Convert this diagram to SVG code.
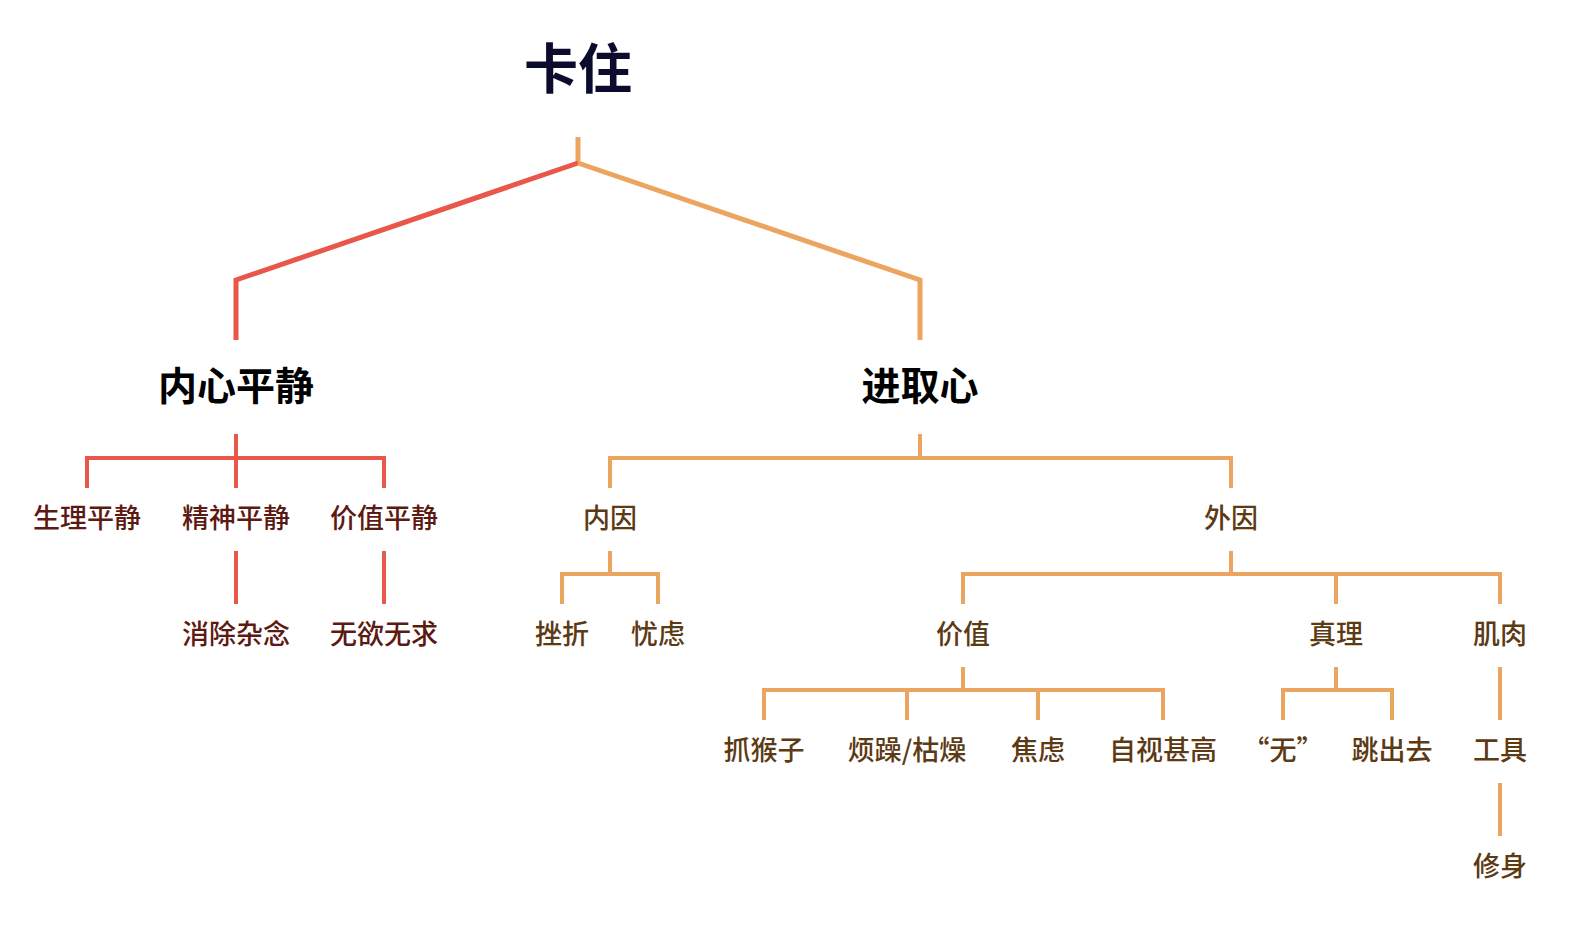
<svg xmlns="http://www.w3.org/2000/svg" width="1594" height="936" viewBox="0 0 1594 936">
<style>
text{font-family:"Noto Sans CJK SC","Noto Sans",sans-serif;text-anchor:middle}
.title{font-size:54px;font-weight:700;fill:#0b0b2e}
.h1{font-size:39px;font-weight:700;fill:#000}
.r{font-size:27px;font-weight:500;fill:#5c1a12}
.o{font-size:27px;font-weight:500;fill:#5c3a14}
.lr{fill:none;stroke:#e8574a;stroke-width:4}
.lo{fill:none;stroke:#eba560;stroke-width:4}
.big{stroke-width:5}
</style>
<rect width="1594" height="936" fill="#fff"/>
<g id="connectors">
<path class="lo big" d="M578 137V163"/>
<path class="lr big" d="M578 163L236 280V340"/>
<path class="lo big" d="M578 163L920 280V340"/>
<path class="lr" d="M236 434V458M87 488V458H384V488M236 458V488"/>
<path class="lr" d="M236 551V604M384 551V604"/>
<path class="lo" d="M920 434V458M610 488V458H1231V488"/>
<path class="lo" d="M610 551V574M562 604V574H658V604"/>
<path class="lo" d="M1231 551V574M963 604V574H1500V604M1336 574V604"/>
<path class="lo" d="M963 667V690M764 720V690H1163V720M907 690V720M1038 690V720"/>
<path class="lo" d="M1336 667V690M1283 720V690H1392V720"/>
<path class="lo" d="M1500 667V720M1500 783V836"/>
</g>
<g id="n-root"><text class="title" x="578" y="89">卡住</text></g>
<g id="n-inner"><text class="h1" x="236" y="400">内心平静</text></g>
<g id="n-drive"><text class="h1" x="920" y="400">进取心</text></g>
<g id="n-phys"><text class="r" x="87" y="528">生理平静</text></g>
<g id="n-mind"><text class="r" x="236" y="528">精神平静</text></g>
<g id="n-value-calm"><text class="r" x="384" y="528">价值平静</text></g>
<g id="n-clear"><text class="r" x="236" y="644">消除杂念</text></g>
<g id="n-nodesire"><text class="r" x="384" y="644">无欲无求</text></g>
<g id="n-internal"><text class="o" x="610" y="528">内因</text></g>
<g id="n-external"><text class="o" x="1231" y="528">外因</text></g>
<g id="n-setback"><text class="o" x="562" y="644">挫折</text></g>
<g id="n-worry"><text class="o" x="658" y="644">忧虑</text></g>
<g id="n-value"><text class="o" x="963" y="644">价值</text></g>
<g id="n-truth"><text class="o" x="1336" y="644">真理</text></g>
<g id="n-muscle"><text class="o" x="1500" y="644">肌肉</text></g>
<g id="n-monkey"><text class="o" x="764" y="760">抓猴子</text></g>
<g id="n-bored"><text class="o" x="907" y="760">烦躁/枯燥</text></g>
<g id="n-anxiety"><text class="o" x="1038" y="760">焦虑</text></g>
<g id="n-proud"><text class="o" x="1163" y="760">自视甚高</text></g>
<g id="n-wu"><text class="o" x="1283" y="760">“无”</text></g>
<g id="n-jump"><text class="o" x="1392" y="760">跳出去</text></g>
<g id="n-tool"><text class="o" x="1500" y="760">工具</text></g>
<g id="n-self"><text class="o" x="1500" y="876">修身</text></g>
</svg>
